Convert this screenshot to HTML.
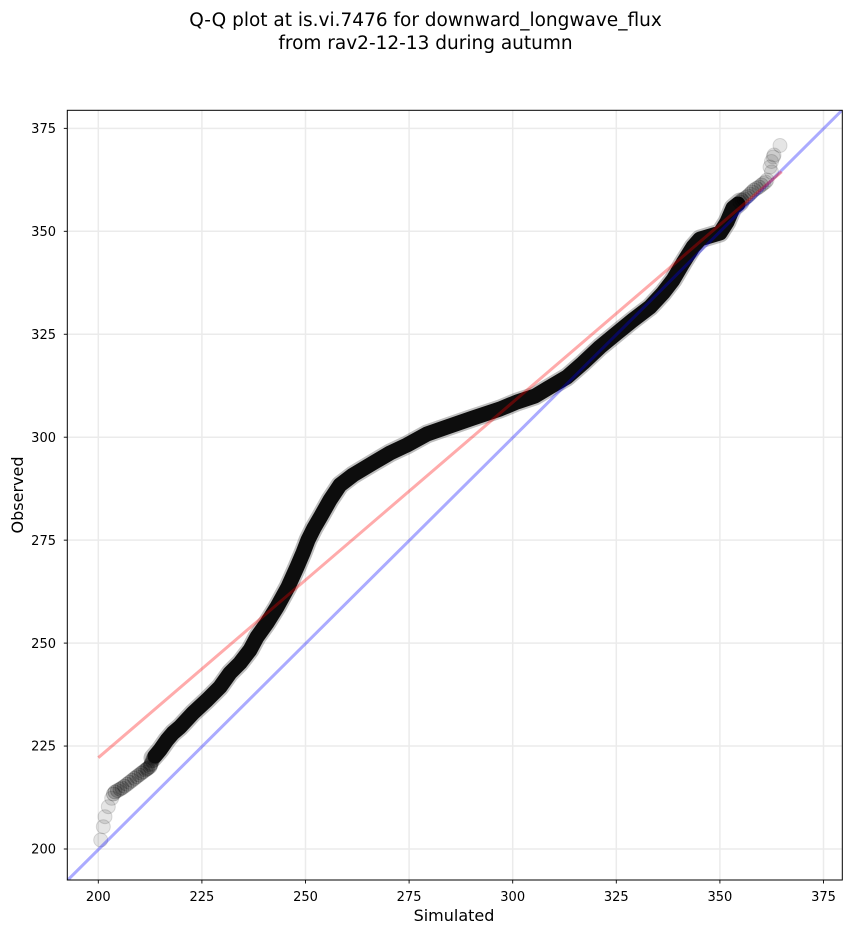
<!DOCTYPE html>
<html>
<head>
<meta charset="utf-8">
<style>
  html,body{margin:0;padding:0;background:#fff;}
  svg{display:block;}
  text{font-family:"DejaVu Sans","Liberation Sans",sans-serif;fill:#000;}
</style>
</head>
<body>
<svg width="851" height="934" viewBox="0 0 851 934" xmlns="http://www.w3.org/2000/svg">
  <defs>
    <clipPath id="ax"><rect x="67.3" y="110.3" width="775" height="769.7"/></clipPath>
  </defs>
  <rect x="0" y="0" width="851" height="934" fill="#fff"/>

  <!-- title -->
  <text x="425.5" y="26" font-size="18.5" text-anchor="middle">Q-Q plot at is.vi.7476 for downward_longwave_flux</text>
  <text x="425.5" y="49" font-size="18.5" text-anchor="middle">from rav2-12-13 during autumn</text>

  <!-- grid -->
  <g stroke="#ebebeb" stroke-width="1.5" clip-path="url(#ax)">
    <line x1="98.3" y1="110" x2="98.3" y2="880"/>
    <line x1="201.9" y1="110" x2="201.9" y2="880"/>
    <line x1="305.5" y1="110" x2="305.5" y2="880"/>
    <line x1="409.1" y1="110" x2="409.1" y2="880"/>
    <line x1="512.7" y1="110" x2="512.7" y2="880"/>
    <line x1="616.3" y1="110" x2="616.3" y2="880"/>
    <line x1="719.9" y1="110" x2="719.9" y2="880"/>
    <line x1="823.5" y1="110" x2="823.5" y2="880"/>
    <line x1="67" y1="849" x2="843" y2="849"/>
    <line x1="67" y1="746.05" x2="843" y2="746.05"/>
    <line x1="67" y1="643.1" x2="843" y2="643.1"/>
    <line x1="67" y1="540.15" x2="843" y2="540.15"/>
    <line x1="67" y1="437.2" x2="843" y2="437.2"/>
    <line x1="67" y1="334.25" x2="843" y2="334.25"/>
    <line x1="67" y1="231.3" x2="843" y2="231.3"/>
    <line x1="67" y1="128.35" x2="843" y2="128.35"/>
  </g>

  <g clip-path="url(#ax)">
    <!-- sparse lower tail -->
    <g fill="rgba(0,0,0,0.1)" stroke="rgba(0,0,0,0.13)" stroke-width="1">
      <circle cx="100.7" cy="840" r="7"/>
      <circle cx="103.3" cy="826.7" r="7"/>
      <circle cx="105" cy="816.7" r="7"/>
      <circle cx="108.3" cy="806.7" r="7"/>
      <circle cx="111.7" cy="798.3" r="7"/>
    </g>
    <g fill="rgba(0,0,0,0.18)" stroke="rgba(0,0,0,0.2)" stroke-width="1">
      <circle cx="113.5" cy="794" r="7"/>
      <circle cx="115" cy="792" r="7"/>
      <circle cx="117.5" cy="790.6" r="7"/>
      <circle cx="120" cy="789.2" r="7"/>
      <circle cx="122" cy="788" r="7"/>
      <circle cx="124.5" cy="786.2" r="7"/>
      <circle cx="127" cy="784.3" r="7"/>
      <circle cx="129.5" cy="782.3" r="7"/>
      <circle cx="132" cy="780.4" r="7"/>
      <circle cx="134.5" cy="778.4" r="7"/>
      <circle cx="136.7" cy="776.7" r="7"/>
      <circle cx="139" cy="775" r="7"/>
      <circle cx="141.3" cy="773.2" r="7"/>
      <circle cx="143.3" cy="771.7" r="7"/>
      <circle cx="145.5" cy="770" r="7"/>
      <circle cx="147" cy="769" r="7"/>
      <circle cx="148" cy="768.2" r="7"/>
      <circle cx="150" cy="766.7" r="7"/>
      <circle cx="150.6" cy="765" r="7"/>
      <circle cx="151.2" cy="763.6" r="7"/>
      <circle cx="152.3" cy="761" r="7"/>
      <circle cx="153.3" cy="758.3" r="7"/>
      <circle cx="154.4" cy="757" r="7"/>
      <circle cx="155.5" cy="755.5" r="7"/>
      <circle cx="157.7" cy="752.8" r="7"/>
      <circle cx="160" cy="750" r="7"/>
    </g>

    <!-- dense band -->
    <path d="M153,758 L160,750 L167,740 L173,733 L180,727 L193,713 L207,700 L220,687 L230,673 L240,663 L250,650 L257,637 L267,623 L277,607 L288,587 L297,567 L303,553 L308,540 L314,528 L321,516 L330,500 L340,485 L353,475 L373,463 L390,453 L407,445 L427,434 L447,427 L473,418 L500,409 L517,402 L535,396 L550,387 L567,377 L583,363 L600,347 L617,333 L633,320 L650,307 L663,293 L673,280 L683,263 L693,247 L700,239 L710,236 L720,233 L727,222 L733,208 L740,202"
      fill="none" stroke="rgba(0,0,0,0.25)" stroke-width="19" stroke-linejoin="round" stroke-linecap="round"/>
    <path d="M155,756 L160,750 L167,740 L173,733 L180,727 L193,713 L207,700 L220,687 L230,673 L240,663 L250,650 L257,637 L267,623 L277,607 L288,587 L297,567 L303,553 L308,540 L314,528 L321,516 L330,500 L340,485 L353,475 L373,463 L390,453 L407,445 L427,434 L447,427 L473,418 L500,409 L517,402 L535,396 L550,387 L567,377 L583,363 L600,347 L617,333 L633,320 L650,307 L663,293 L673,280 L683,263 L693,247 L700,239 L710,236 L720,233 L727,222 L733,208 L738,204"
      fill="none" stroke="#0d0d0d" stroke-width="15" stroke-linejoin="round" stroke-linecap="round"/>

    <!-- upper tail -->
    <g fill="rgba(0,0,0,0.15)" stroke="rgba(0,0,0,0.17)" stroke-width="1">
      <circle cx="740" cy="202" r="7"/>
      <circle cx="742" cy="200" r="7"/>
      <circle cx="744" cy="199" r="7"/>
      <circle cx="746" cy="197.5" r="7"/>
      <circle cx="748" cy="196" r="7"/>
      <circle cx="750" cy="194" r="7"/>
      <circle cx="752" cy="192" r="7"/>
      <circle cx="754" cy="190" r="7"/>
      <circle cx="756.5" cy="188.5" r="7"/>
      <circle cx="759" cy="187" r="7"/>
      <circle cx="761.5" cy="185" r="7"/>
    </g>
    <g fill="rgba(0,0,0,0.1)" stroke="rgba(0,0,0,0.13)" stroke-width="1">
      <circle cx="763.5" cy="183.5" r="7"/>
      <circle cx="765.5" cy="182" r="7"/>
      <circle cx="767" cy="180" r="7"/>
      <circle cx="771.5" cy="172" r="7"/>
      <circle cx="770" cy="167" r="7"/>
      <circle cx="771.5" cy="161.5" r="7"/>
      <circle cx="773.3" cy="157" r="7"/>
      <circle cx="774" cy="155" r="7"/>
      <circle cx="780" cy="145.5" r="7"/>
    </g>

    <!-- reference lines -->
    <line x1="67.3" y1="880.5" x2="842.3" y2="110" stroke="rgba(0,0,255,0.33)" stroke-width="3"/>
    <line x1="98.3" y1="757.7" x2="781.7" y2="171.7" stroke="rgba(255,0,0,0.33)" stroke-width="3"/>
  </g>

  <!-- axes frame -->
  <rect x="67.3" y="110.3" width="775" height="769.7" fill="none" stroke="#000" stroke-width="1"/>

  <!-- ticks -->
  <g stroke="#000" stroke-width="0.9">
    <line x1="98.3" y1="880" x2="98.3" y2="883.5"/>
    <line x1="201.9" y1="880" x2="201.9" y2="883.5"/>
    <line x1="305.5" y1="880" x2="305.5" y2="883.5"/>
    <line x1="409.1" y1="880" x2="409.1" y2="883.5"/>
    <line x1="512.7" y1="880" x2="512.7" y2="883.5"/>
    <line x1="616.3" y1="880" x2="616.3" y2="883.5"/>
    <line x1="719.9" y1="880" x2="719.9" y2="883.5"/>
    <line x1="823.5" y1="880" x2="823.5" y2="883.5"/>
    <line x1="63.8" y1="849" x2="67.3" y2="849"/>
    <line x1="63.8" y1="746.05" x2="67.3" y2="746.05"/>
    <line x1="63.8" y1="643.1" x2="67.3" y2="643.1"/>
    <line x1="63.8" y1="540.15" x2="67.3" y2="540.15"/>
    <line x1="63.8" y1="437.2" x2="67.3" y2="437.2"/>
    <line x1="63.8" y1="334.25" x2="67.3" y2="334.25"/>
    <line x1="63.8" y1="231.3" x2="67.3" y2="231.3"/>
    <line x1="63.8" y1="128.35" x2="67.3" y2="128.35"/>
  </g>
  <g font-size="13" text-anchor="middle">
    <text x="98.3" y="901">200</text>
    <text x="201.9" y="901">225</text>
    <text x="305.5" y="901">250</text>
    <text x="409.1" y="901">275</text>
    <text x="512.7" y="901">300</text>
    <text x="616.3" y="901">325</text>
    <text x="719.9" y="901">350</text>
    <text x="823.5" y="901">375</text>
  </g>
  <g font-size="13" text-anchor="end">
    <text x="56" y="853.7">200</text>
    <text x="56" y="750.7">225</text>
    <text x="56" y="647.8">250</text>
    <text x="56" y="544.8">275</text>
    <text x="56" y="441.9">300</text>
    <text x="56" y="338.9">325</text>
    <text x="56" y="236">350</text>
    <text x="56" y="133">375</text>
  </g>

  <!-- axis labels -->
  <text x="454" y="921" font-size="16" text-anchor="middle">Simulated</text>
  <text x="0" y="0" font-size="16" text-anchor="middle" transform="translate(23,495) rotate(-90)">Observed</text>
</svg>
</body>
</html>
